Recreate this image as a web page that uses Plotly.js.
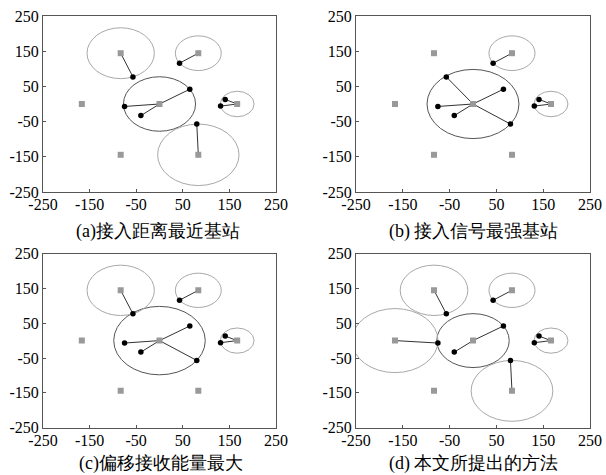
<!DOCTYPE html>
<html>
<head>
<meta charset="utf-8">
<script src="https://cdn.plot.ly/plotly-3.0.1.min.js"></script>
<style>html,body{margin:0;padding:0;background:#fff;}#chart{width:606px;height:475px;}</style>
</head>
<body>
<div id="chart"></div>
<script>
// Base stations (hexagonal layout)
const bsX = [0, 166.7, -166.7, 83.3, -83.3, 83.3, -83.3];
const bsY = [0, 0, 0, 144.3, 144.3, -144.3, -144.3];
// Users
const userX = [-57, 43, 65, -75, -40, 80, 141, 131];
const userY = [77, 116, 42, -7, -33, -57, 13, -6];
// Association (index of serving BS) for each scheme
const assocA = [4, 3, 0, 0, 0, 5, 1, 1];
const assocB = [0, 3, 0, 0, 0, 0, 1, 1];
const assocC = [4, 3, 0, 0, 0, 0, 1, 1];
const assocD = [4, 3, 0, 2, 0, 5, 1, 1];
const captions = ["(a)接入距离最近基站", "(b) 接入信号最强基站", "(c)偏移接收能量最大", "(d) 本文所提出的方法"];
const tickVals = [-250, -150, -50, 50, 150, 250];
const tickText = ["-250", "-150", "-50", "50", "150", "250"];

const W = 606, H = 475;
const panels = [
  {assoc: assocA, x: [43, 276], y: [16, 192], cap: [158, 232]},
  {assoc: assocB, x: [356, 590], y: [16, 192], cap: [474, 232]},
  {assoc: assocC, x: [43, 276], y: [253.5, 427.7], cap: [161, 463]},
  {assoc: assocD, x: [356, 590], y: [253.5, 427.7], cap: [474, 463]}
];

const serif = "Times New Roman";
const traces = [];
const shapes = [];
const annotations = [];
const layout = {
  width: W, height: H,
  margin: {l: 0, r: 0, t: 0, b: 0},
  paper_bgcolor: '#fff', plot_bgcolor: '#fff',
  showlegend: false,
  font: {family: serif, size: 16, color: '#000'}
};

panels.forEach((p, i) => {
  const n = i === 0 ? '' : String(i + 1);
  const xa = 'x' + n, ya = 'y' + n;
  const axBase = {
    range: [-250, 250], tickmode: 'array', tickvals: tickVals, ticktext: tickText,
    showgrid: false, zeroline: false, showline: true, mirror: true,
    linecolor: '#555', linewidth: 1, ticks: 'inside', ticklen: 3, tickcolor: '#555',
    tickfont: {family: serif, size: 16, color: '#000'}, fixedrange: true
  };
  layout['xaxis' + n] = Object.assign({}, axBase, {
    domain: [p.x[0] / W, p.x[1] / W], anchor: ya, ticklabelstandoff: -2
  });
  layout['yaxis' + n] = Object.assign({}, axBase, {
    domain: [1 - p.y[1] / H, 1 - p.y[0] / H], anchor: xa, ticklabelstandoff: 0
  });

  // connection lines
  const lx = [], ly = [];
  const radius = new Array(bsX.length).fill(0);
  p.assoc.forEach((b, u) => {
    lx.push(userX[u], bsX[b], null);
    ly.push(userY[u], bsY[b], null);
    const d = Math.hypot(userX[u] - bsX[b], userY[u] - bsY[b]);
    if (d > radius[b]) radius[b] = d;
  });
  // coverage circles
  radius.forEach((r, b) => {
    if (r > 0) {
      shapes.push({
        type: 'circle', xref: xa, yref: ya, layer: 'below',
        x0: bsX[b] - r, x1: bsX[b] + r, y0: bsY[b] - r, y1: bsY[b] + r,
        line: {color: b === 0 ? '#555' : '#a8a8a8', width: 1}
      });
    }
  });
  traces.push({
    type: 'scatter', mode: 'lines', x: lx, y: ly, xaxis: xa, yaxis: ya,
    line: {color: '#333', width: 1}, hoverinfo: 'skip'
  });
  traces.push({
    type: 'scatter', mode: 'markers', x: bsX, y: bsY, xaxis: xa, yaxis: ya,
    marker: {symbol: 'square', size: 6, color: '#999'}
  });
  traces.push({
    type: 'scatter', mode: 'markers', x: userX, y: userY, xaxis: xa, yaxis: ya,
    marker: {symbol: 'circle', size: 5.5, color: '#000'}
  });
  annotations.push({
    xref: 'paper', yref: 'paper', x: p.cap[0] / W, y: 1 - p.cap[1] / H,
    xanchor: 'center', yanchor: 'middle', showarrow: false,
    text: captions[i], font: {family: serif, size: 18, color: '#000'}
  });
});

layout.shapes = shapes;
layout.annotations = annotations;
Plotly.newPlot('chart', traces, layout, {displayModeBar: false, staticPlot: true});
</script>
</body>
</html>
